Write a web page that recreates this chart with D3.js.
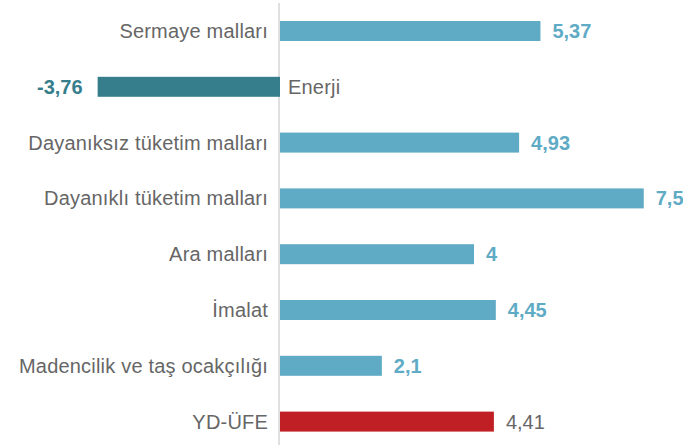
<!DOCTYPE html>
<html><head><meta charset="utf-8">
<script src="https://cdn.jsdelivr.net/npm/d3@7"></script>
<style>body{margin:0;background:#fff}svg{display:block}text{font-family:"Liberation Sans",Arial,Helvetica,sans-serif}</style>
</head><body><svg id="c" width="683" height="445"></svg>
<script>
const categories = ["Sermaye malları","Enerji","Dayanıksız tüketim malları","Dayanıklı tüketim malları","Ara malları","İmalat","Madencilik ve taş ocakçılığı","YD-ÜFE"];
const values = [5.37,-3.76,4.93,7.5,4,4.45,2.1,4.41];
const valueLabels = ["5,37","-3,76","4,93","7,5","4","4,45","2,1","4,41"];
const kinds = ["pos","neg","pos","pos","pos","pos","pos","total"];

const colors = {pos:"#5fabc5", neg:"#367e8c", total:"#c01f25"};
const labelColors = {pos:"#5fabc5", neg:"#367e8c", total:"#666666"};

const svg = d3.select("#c");
const x = d3.scaleLinear().domain([-4, 8]).range([280 - 4*48.5, 280 + 8*48.5]);
const step = 55.8;
const y = d3.scaleBand().domain(categories).range([3.1, 3.1 + 8*step]).paddingInner(0.642).paddingOuter(0.321);

svg.append("line").attr("x1", x(0)-1).attr("x2", x(0)-1).attr("y1", 3).attr("y2", 445)
  .attr("stroke", "#d9d9d9").attr("stroke-width", 1.6);

const data = categories.map((c,i)=>({c, v:values[i], l:valueLabels[i], k:kinds[i]}));

svg.selectAll("rect.bar").data(data).join("rect").attr("class","bar")
  .attr("x", d => x(Math.min(0,d.v)))
  .attr("width", d => Math.abs(x(d.v)-x(0)))
  .attr("y", d => y(d.c)).attr("height", y.bandwidth())
  .attr("fill", d => colors[d.k]);

svg.selectAll("text.cat").data(data).join("text").attr("class","cat")
  .attr("x", d => d.v < 0 ? x(0) + 8 : x(0) - 12)
  .attr("y", d => y(d.c) + y.bandwidth()/2)
  .attr("dy", "0.35em")
  .attr("text-anchor", d => d.v < 0 ? "start" : "end")
  .attr("font-size", 20).attr("letter-spacing", 0.2).attr("fill", "#666")
  .text(d => d.c);

svg.selectAll("text.val").data(data).join("text").attr("class","val")
  .attr("x", d => d.v < 0 ? x(d.v) - 15 : x(d.v) + 12)
  .attr("y", d => y(d.c) + y.bandwidth()/2)
  .attr("dy", "0.35em")
  .attr("text-anchor", d => d.v < 0 ? "end" : "start")
  .attr("font-size", 20)
  .attr("font-weight", d => d.k === "total" ? "normal" : "bold")
  .attr("fill", d => labelColors[d.k])
  .text(d => d.l);
</script></body></html>
